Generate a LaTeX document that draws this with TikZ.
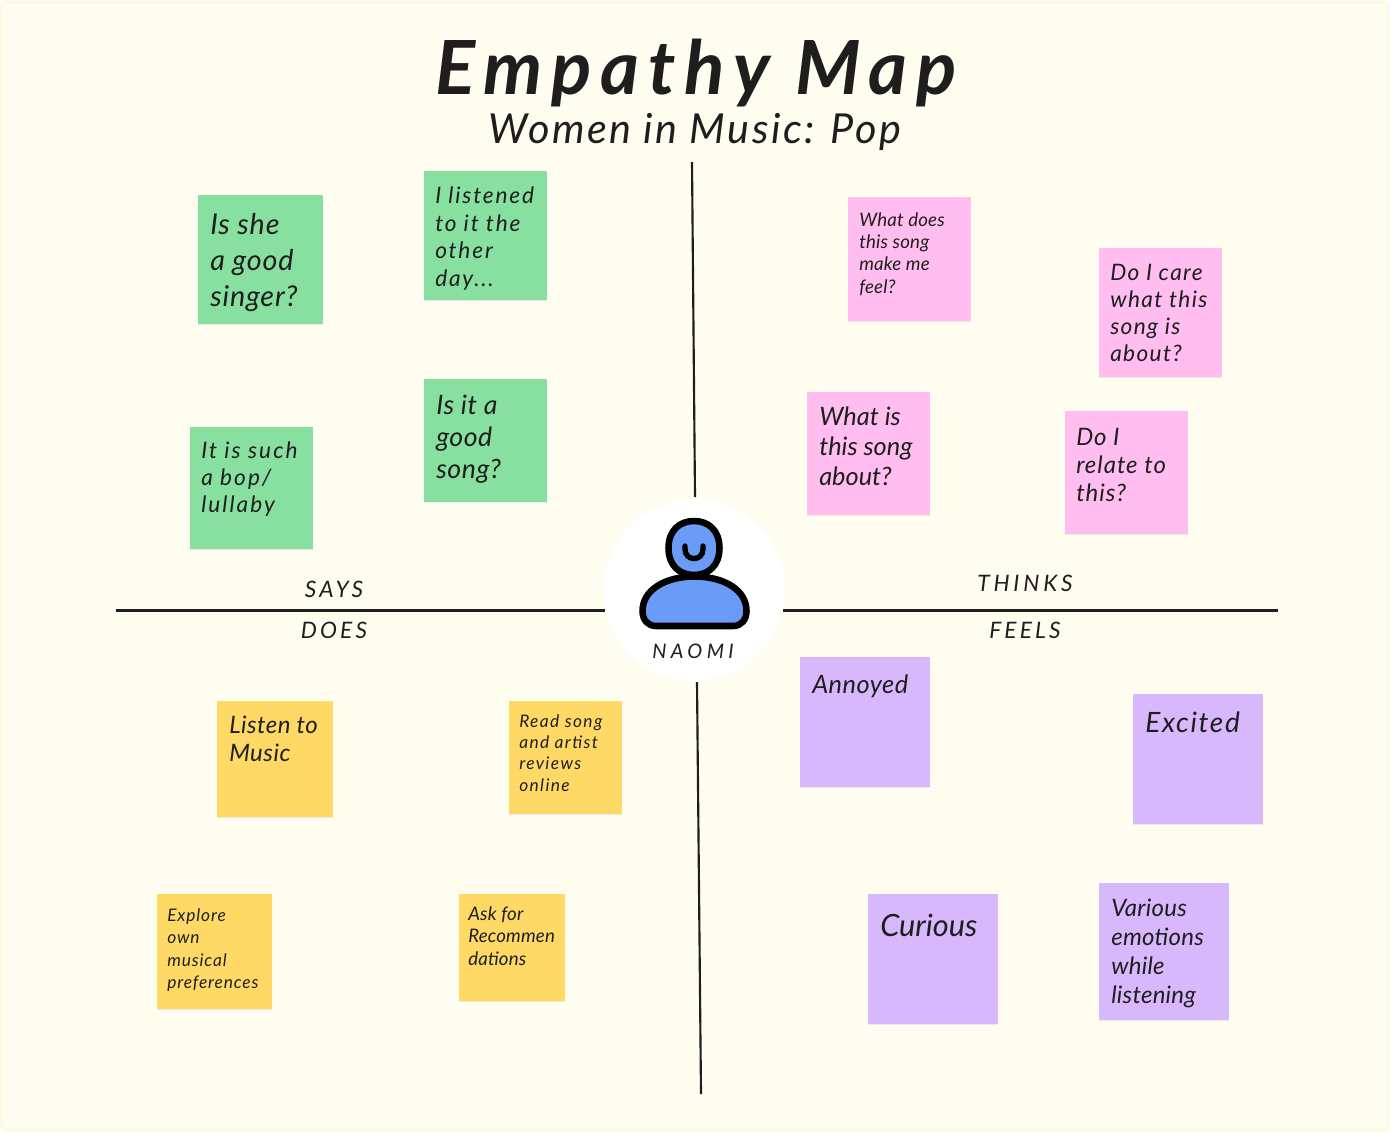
\documentclass[tikz,border=0pt]{standalone}
\usepackage{fontspec}
\usetikzlibrary{shadows}
\setmainfont{Lato}
\definecolor{paper}{HTML}{FFFDF0}
\definecolor{edgec}{HTML}{FFF9E2}
\definecolor{ink}{HTML}{1E1E1E}
\definecolor{gnote}{HTML}{88E0A0}
\definecolor{pnote}{HTML}{FFBDF0}
\definecolor{ynote}{HTML}{FFD966}
\definecolor{vnote}{HTML}{D8B8FC}
\definecolor{blueb}{HTML}{699BF7}
\tikzset{
  sticky/.style={draw=none,inner sep=0pt,drop shadow={shadow xshift=0pt,shadow yshift=-0.8pt,opacity=.07,fill=black}},
  notetext/.style={anchor=north west,inner sep=0pt,align=left,text=ink},
  axis/.style={draw=ink,line width=1.6pt},
  caplabel/.style={inner sep=0pt,text=ink},
  iconline/.style={draw=black,line width=4.9pt,line join=round,fill=blueb}
}
\newcommand{\sticky}[6]{\node[sticky,fill=#6,minimum width={(#4-#2)*0.75pt},minimum height={(#5-#3)*0.75pt}] (#1) at ({(#2+#4)/2},{(#3+#5)/2}) {};}
\newcommand{\spaced}[1]{\addfontfeatures{LetterSpace=#1}}
\newcommand{\notetxt}[7]{\node[notetext,font=\fontsize{#4}{#5}\selectfont\itshape\spaced{#6}] (#1) at (#2,#3) {#7};}
\begin{document}
\begin{tikzpicture}[x=0.75pt,y=-0.75pt]
\useasboundingbox (0,0) rectangle (1392,1132);
\fill[white] (0,0) rectangle (1392,1132);
\fill[paper,draw=edgec,line width=2pt,rounded corners=3pt] (1.5,2) rectangle (1388,1130);
% title
\node[caplabel,font=\fontsize{56pt}{60pt}\selectfont\bfseries\itshape\spaced{12}] (title) at (696,73) {Empathy Map};
\node[caplabel,font=\fontsize{31pt}{34pt}\selectfont\itshape\spaced{6}] (subtitle) at (695,132) {Women in Music: Pop};
% axes
\coordinate (topA) at (692,162);
\coordinate (topB) at (695,497);
\coordinate (botA) at (697,682);
\coordinate (botB) at (701,1094);
\coordinate (leftA) at (116,610.5);
\coordinate (leftB) at (605,610.5);
\coordinate (rightA) at (783,610.5);
\coordinate (rightB) at (1278,610.5);
\draw[axis] (topA) -- (topB);
\draw[axis] (botA) -- (botB);
\draw[axis] (leftA) -- (leftB);
\draw[axis] (rightA) -- (rightB);
% quadrant labels
\node[caplabel,font=\fontsize{17pt}{20pt}\selectfont\itshape\spaced{15}] (says) at (334,589) {SAYS};
\node[caplabel,font=\fontsize{17pt}{20pt}\selectfont\itshape\spaced{14}] (does) at (334,630) {DOES};
\node[caplabel,font=\fontsize{17pt}{20pt}\selectfont\itshape\spaced{17}] (thinks) at (1025,583) {THINKS};
\node[caplabel,font=\fontsize{17pt}{20pt}\selectfont\itshape\spaced{14}] (feels) at (1025,630) {FEELS};
% persona
\node[circle,fill=white,minimum size={182*0.75pt},inner sep=0pt] (persona) at (694,590) {};
\draw[iconline] (668.5,548) .. controls (668.5,530) and (680,521) .. (694,521) .. controls (708,521) and (719.5,530) .. (719.5,548) .. controls (719.5,566) and (708,575) .. (694,575) .. controls (680,575) and (668.5,566) .. (668.5,548) -- cycle;
\draw[draw=black,line width=4pt,line cap=round] (685,546) -- (685,549) .. controls (685,555) and (689,558.5) .. (694,558.5) .. controls (699,558.5) and (703,555) .. (703,549) -- (703,546);
\draw[iconline] (642.5,611) .. controls (642.5,590) and (665,576.5) .. (694.5,576.5) .. controls (724,576.5) and (746.5,590) .. (746.5,611) .. controls (746.5,620) and (741,626) .. (733,626) -- (656,626) .. controls (648,626) and (642.5,620) .. (642.5,611) -- cycle;
\node[caplabel,font=\fontsize{15pt}{18pt}\selectfont\itshape\spaced{22}] (naomi) at (693,651) {NAOMI};
% says
\sticky{g1}{198}{195}{323}{324}{gnote}
\sticky{g2}{424}{171}{547}{300}{gnote}
\sticky{g3}{424}{379}{547}{502}{gnote}
\sticky{g4}{190}{427}{313}{549}{gnote}
\notetxt{g1t}{210}{213}{21.5pt}{27pt}{3}{Is she\\a good\\singer?}
\notetxt{g2t}{435}{187}{17pt}{20.6pt}{8}{I listened\\to it the\\other\\day...}
\notetxt{g3t}{436}{395}{20pt}{24pt}{2}{Is it a\\good\\song?}
\notetxt{g4t}{201}{442}{17pt}{20.2pt}{9}{It is such\\a bop/\\lullaby}
% thinks
\sticky{p1}{848}{197}{971}{321}{pnote}
\sticky{p2}{1099}{248}{1222}{377}{pnote}
\sticky{p3}{807}{392}{930}{515}{pnote}
\sticky{p4}{1065}{411}{1188}{534}{pnote}
\notetxt{p1t}{859}{212}{14pt}{16.8pt}{1}{What does\\this song\\make me\\feel?}
\notetxt{p2t}{1110}{264}{17pt}{20.2pt}{6}{Do I care\\what this\\song is\\about?}
\notetxt{p3t}{819}{407}{19pt}{22.2pt}{0}{What is\\this song\\about?}
\notetxt{p4t}{1076}{428}{18pt}{21pt}{4}{Do I\\relate to\\this?}
% does
\sticky{y1}{217}{701}{333}{817}{ynote}
\sticky{y2}{509}{701}{622}{814}{ynote}
\sticky{y3}{157}{894}{272}{1009}{ynote}
\sticky{y4}{459}{894}{565}{1001}{ynote}
\notetxt{y1t}{229}{716}{18pt}{21pt}{2}{Listen to\\Music}
\notetxt{y2t}{519}{714}{13pt}{16pt}{8}{Read song\\and artist\\reviews\\online}
\notetxt{y3t}{167}{908}{13pt}{16.9pt}{5}{Explore\\own\\musical\\preferences}
\notetxt{y4t}{468}{906}{14pt}{17.2pt}{1}{Ask for\\Recommen\\dations}
% feels
\sticky{v1}{800}{657}{930}{787}{vnote}
\sticky{v2}{1133}{694}{1263}{824}{vnote}
\sticky{v3}{868}{894}{998}{1024}{vnote}
\sticky{v4}{1099}{883}{1229}{1020}{vnote}
\notetxt{v1t}{812}{675}{19pt}{23pt}{2}{Annoyed}
\notetxt{v2t}{1145}{712}{21pt}{25pt}{6}{Excited}
\notetxt{v3t}{880}{914}{23pt}{27pt}{0}{Curious}
\notetxt{v4t}{1111}{899}{18pt}{21.8pt}{1}{Various\\emotions\\while\\listening}
\end{tikzpicture}
\end{document}
